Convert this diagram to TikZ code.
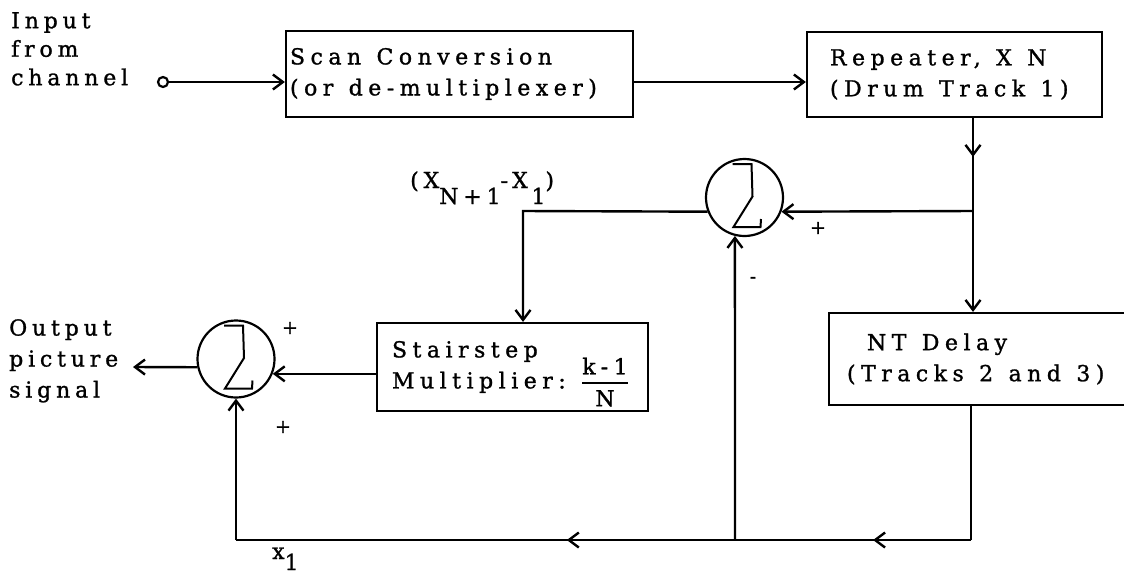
\documentclass[tikz,border=0pt]{standalone}
\usepackage{amsmath}
\usepackage{fontspec}
\newfontfamily\typed[LetterSpace=22,FakeBold=1.2]{DejaVu Serif}
\newfontfamily\typedbox[LetterSpace=25,FakeBold=1.2]{DejaVu Serif}
\usetikzlibrary{arrows.meta,decorations.markings}

% typed subscripts are just lowered full-size characters
\newcommand\lowered[2][16pt]{\raisebox{-#1}{#2}}
% fixed, unbreakable word gap of the typewriter
\newcommand\tgap{\kern0.7em\relax}

\tikzset{
  wire/.style={line width=2.4pt},
  box/.style={draw, line width=2.2pt, inner ysep=0pt, align=left,
    font=\typedbox\fontsize{22}{31}\selectfont},
  sumnode/.style={circle, draw, line width=2.2pt, minimum size=77pt, inner sep=0pt},
  midarrow/.style={postaction={decorate},
    decoration={markings, mark=at position #1 with {\arrow{>}}}},
  lbl/.style={inner sep=0pt, font=\typed\fontsize{22}{30}\selectfont},
  sign/.style={inner sep=0pt, font=\typed\fontsize{19}{20}\selectfont},
  sigma/.pic={\draw[line width=2pt, line join=miter]
    (-12,-33.5) -- (7,-33.5) -- (8,-1) -- (-11,29.5) -- (16,29.5) -- (16.5,21.5);},
}

\begin{document}
\begin{tikzpicture}[x=1pt, y=-1pt, >={Straight Barb[length=10pt,width=15pt]}]
\useasboundingbox (0,0) rectangle (1124,579);

% input terminal
\node[lbl, align=left, anchor=north west, font=\typed\fontsize{22}{28.5}\selectfont]
  (inlbl) at (11,12) {Input\\from\\channel};
\node[circle, draw, line width=2.2pt, minimum size=10pt, inner sep=0pt] (incirc) at (163,82) {};

% processing blocks
\node[box, minimum width=347pt, minimum height=86pt, inner xsep=4pt, text width=339pt]
  (scan) at (459.5,74) {Scan\tgap Conversion\\(or\tgap de-multiplexer)};
\node[box, minimum width=295pt, minimum height=85pt, inner xsep=23pt, text width=249pt]
  (rep) at (954.5,74.5) {Repeater,\tgap X\tgap N\\(Drum\tgap Track\tgap 1)};
\node[box, minimum width=321pt, minimum height=92pt, inner xsep=18pt, text width=285pt]
  (nt) at (989.5,359) {\hspace*{20pt}NT\tgap Delay\\(Tracks\tgap 2\tgap and\tgap 3)};
\node[box, minimum width=271pt, minimum height=88pt, inner xsep=15pt, text width=241pt]
  (stair) at (512.5,367) {Stairstep\\Multiplier:\tgap\smash{$\genfrac{}{}{2pt}{0}{\mbox{k-1}}{\mbox{N}}$}};

% summing junctions
\node[sumnode] (s1) at (744.5,197.5) {};
\node[sumnode] (s2) at (236,359) {};
\pic at (s1.center) {sigma};
\pic at (s2.center) {sigma};

% routing points
\coordinate (j1) at (973,211);
\coordinate (k1) at (523,211);
\coordinate (b1) at (971,540);
\coordinate (b2) at (735,540);
\coordinate (b3) at (236,540);
\coordinate (out) at (133,367);

% forward path
\draw[wire,->] (incirc.east) -- (incirc.east -| scan.west);
\draw[wire,->] (scan.east |- incirc) -- (rep.west |- incirc);
\draw[wire,->,midarrow=0.2] (rep.south -| j1) -- (nt.north -| j1);
\draw[wire,->] (j1) -- (s1.-21);
\draw[wire,->] (s1.201) -- (k1) -- (k1 |- stair.north);
\draw[wire,->] (stair.west |- s2.-22) -- (s2.-22);
\draw[wire,->] (s2.192) -- (out);

% delayed return path
\draw[wire] (nt.south -| b1) -- (b1);
\draw[wire,midarrow=0.415] (b1) -- (b2);
\draw[wire,midarrow=0.337] (b2) -- (b3);
\draw[wire,->] (b3) -- (s2.south);
\draw[wire,->] (b2) -- (s1.-104);

% signs and signal names
\node[sign] (p1) at (818,228) {+};
\node[sign] (m1) at (753,280) {-};
\node[sign] (p2) at (290,328) {+};
\node[sign] (p3) at (283,427) {+};
\node[lbl, anchor=base west] (diff) at (410,188) {(X\lowered{N+1}-X\,\lowered{1})};
\node[lbl, anchor=base west] (x1) at (272,559) {x\lowered[11pt]{1}};
\node[lbl, align=left, anchor=north west, font=\typed\fontsize{22}{31}\selectfont]
  (outlbl) at (9,319) {Output\\picture\\signal};
\end{tikzpicture}
\end{document}
